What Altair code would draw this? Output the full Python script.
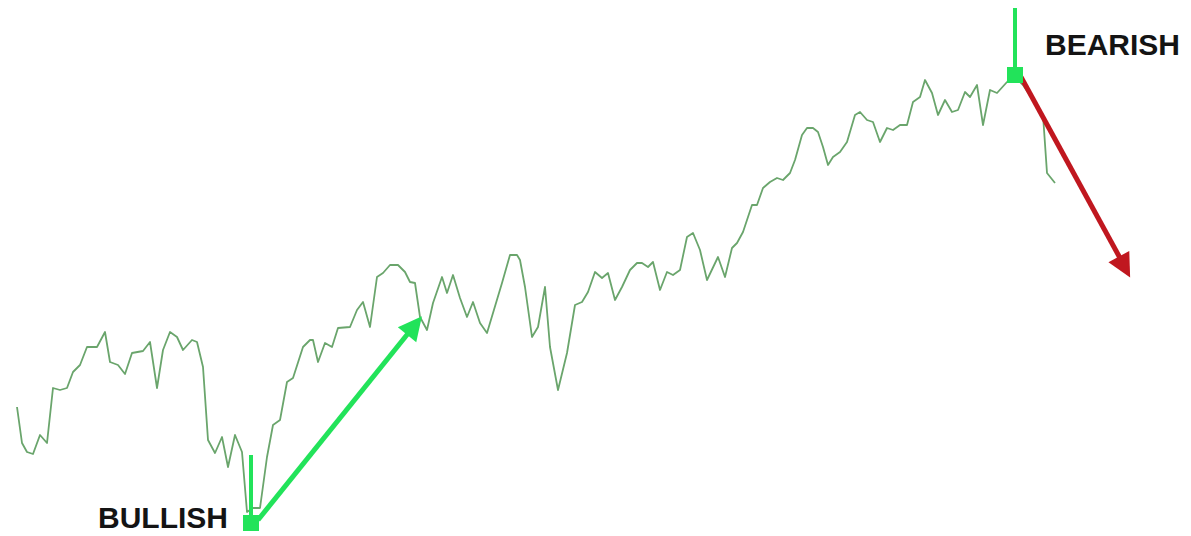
import altair as alt
import pandas as pd

# price series (x = time position, price = level)
day = [17, 22, 27, 33, 40, 47, 53, 60, 67, 73, 80, 87, 97, 105, 110, 118, 125, 132, 143, 150,
       157, 163, 170, 177, 183, 192, 197, 203, 208, 215, 222, 228, 235, 242, 247, 253, 260, 267,
       273, 280, 287, 293, 303, 310, 313, 318, 325, 332, 338, 350, 357, 363, 370, 377, 383, 390,
       398, 405, 410, 415, 420, 427, 433, 442, 447, 453, 460, 467, 473, 480, 487, 493, 502, 510,
       517, 520, 525, 532, 538, 545, 550, 558, 567, 575, 582, 588, 595, 602, 608, 615, 622, 630,
       637, 642, 648, 653, 660, 667, 673, 680, 687, 693, 700, 707, 718, 725, 732, 737, 743, 752,
       757, 763, 770, 777, 783, 790, 795, 802, 807, 813, 818, 823, 828, 833, 840, 847, 855, 860,
       867, 873, 880, 887, 893, 900, 907, 913, 920, 925, 932, 938, 945, 952, 958, 965, 970, 977,
       983, 990, 997, 1007, 1013, 1023, 1043, 1047, 1055]
price = [129, 93, 84, 82, 101, 93, 148, 146, 148, 164, 171, 189, 189, 204, 174, 171, 162, 183, 185, 194,
         148, 186, 204, 199, 186, 196, 194, 169, 96, 83, 99, 69, 101, 84, 24, 28, 28, 79,
         111, 116, 154, 158, 189, 196, 196, 174, 193, 189, 208, 209, 226, 234, 209, 259, 263, 271,
         271, 264, 254, 253, 219, 206, 233, 259, 243, 261, 238, 219, 234, 213, 203, 223, 253, 281,
         281, 276, 249, 199, 209, 249, 189, 146, 183, 231, 234, 244, 264, 258, 263, 236, 249, 266,
         273, 273, 269, 274, 246, 264, 261, 266, 299, 303, 286, 256, 279, 259, 288, 293, 304, 331,
         331, 348, 354, 358, 356, 363, 376, 401, 408, 408, 404, 389, 371, 379, 384, 394, 421, 424,
         416, 414, 394, 408, 406, 411, 411, 434, 439, 456, 443, 421, 436, 424, 426, 444, 439, 451,
         411, 446, 443, 454, 461, 451, 421, 363, 353]

# signal points
sig_label = ["BULLISH", "BEARISH"]
sig_day = [251, 1015]
sig_price = [13, 461]
sig_top = [81, 528]           # top of vertical signal stick
label_day = [228, 1045]
label_price = [8, 481]
label_align = ["right", "left"]

# trend arrows
arrow_name = ["up", "down"]
arrow_day0 = [258, 1021]
arrow_price0 = [16, 459]
arrow_day1 = [410, 1120]
arrow_price1 = [205, 278]
head_day = [414.5, 1124.5]
head_price = [210.5, 269]
head_angle = [39, 151.5]
arrow_color = ["#22e35a", "#c0171f"]

GREEN = "#22e35a"
LINE = "#6aa56c"

xs = alt.Scale(domain=[8, 1183])
ys = alt.Scale(domain=[0, 528])

series = pd.DataFrame({"day": day, "price": price})
sig = pd.DataFrame({"label": sig_label, "day": sig_day, "price": sig_price, "top": sig_top,
                    "lday": label_day, "lprice": label_price, "align": label_align})
arr = pd.DataFrame({"name": arrow_name, "d0": arrow_day0, "p0": arrow_price0,
                    "d1": arrow_day1, "p1": arrow_price1, "hd": head_day, "hp": head_price,
                    "ang": head_angle, "col": arrow_color})

line = alt.Chart(series).mark_line(color=LINE, strokeWidth=1.8, strokeJoin="round").encode(
    x=alt.X("day:Q", scale=xs, axis=None),
    y=alt.Y("price:Q", scale=ys, axis=None),
)

shafts = alt.Chart(arr).mark_rule(strokeWidth=5, strokeCap="butt").encode(
    x=alt.X("d0:Q", scale=xs, axis=None),
    y=alt.Y("p0:Q", scale=ys, axis=None),
    x2="d1:Q",
    y2="p1:Q",
    color=alt.Color("col:N", scale=None),
)

heads = alt.Chart(arr).mark_point(
    shape="M0,-1L-1,1L1,1Z", filled=True, opacity=1, size=560, strokeWidth=0
).encode(
    x=alt.X("hd:Q", scale=xs, axis=None),
    y=alt.Y("hp:Q", scale=ys, axis=None),
    angle=alt.Angle("ang:Q", scale=None),
    color=alt.Color("col:N", scale=None),
)

sticks = alt.Chart(sig).mark_rule(strokeWidth=4, color=GREEN).encode(
    x=alt.X("day:Q", scale=xs, axis=None),
    y=alt.Y("price:Q", scale=ys, axis=None),
    y2="top:Q",
)

squares = alt.Chart(sig).mark_square(size=256, color=GREEN, opacity=1).encode(
    x=alt.X("day:Q", scale=xs, axis=None),
    y=alt.Y("price:Q", scale=ys, axis=None),
)

bull_txt = alt.Chart(sig[sig["align"] == "right"]).mark_text(
    font="Liberation Sans", fontWeight="bold", fontSize=30, color="#141414",
    align="right", baseline="alphabetic"
).encode(
    x=alt.X("lday:Q", scale=xs, axis=None),
    y=alt.Y("lprice:Q", scale=ys, axis=None),
    text="label:N",
)

bear_txt = alt.Chart(sig[sig["align"] == "left"]).mark_text(
    font="Liberation Sans", fontWeight="bold", fontSize=30, color="#141414",
    align="left", baseline="alphabetic"
).encode(
    x=alt.X("lday:Q", scale=xs, axis=None),
    y=alt.Y("lprice:Q", scale=ys, axis=None),
    text="label:N",
)

chart = alt.layer(line, shafts, heads, sticks, squares, bull_txt, bear_txt).properties(
    width=1175, height=528, padding=0, autosize=alt.AutoSizeParams(type="none"),
    background="white",
).configure_view(stroke=None)

chart.save("out.html", embed_options={"renderer": "svg", "actions": False})
